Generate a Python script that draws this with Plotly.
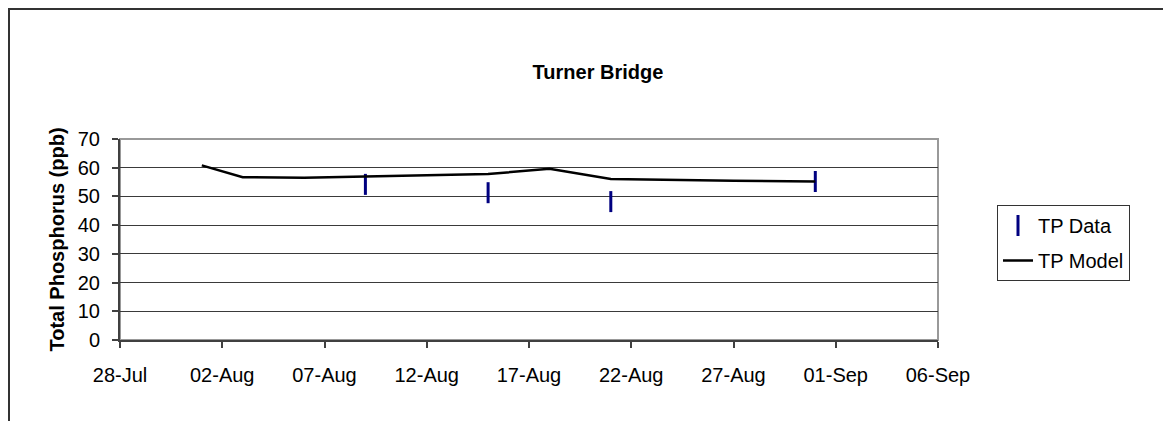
import plotly.graph_objects as go

# ---- data ----
model_dates = ["2004-08-01", "2004-08-03", "2004-08-06", "2004-08-09", "2004-08-15",
               "2004-08-18", "2004-08-21", "2004-08-27", "2004-08-31"]
model_tp = [60.8, 56.7, 56.5, 57.0, 57.8, 59.6, 56.1, 55.5, 55.2]

data_dates = ["2004-08-09", "2004-08-15", "2004-08-21", "2004-08-31"]
data_tp = [54.2, 51.3, 48.2, 55.2]

x_tick_vals = ["2004-07-28", "2004-08-02", "2004-08-07", "2004-08-12", "2004-08-17",
               "2004-08-22", "2004-08-27", "2004-09-01", "2004-09-06"]
y_tick_vals = [0, 10, 20, 30, 40, 50, 60, 70]

FONT = "Liberation Sans, Arial, sans-serif"
OFF = 8  # page body margin
W, H = 1171 - OFF, 421 - OFF
L, R, T, B = 120 - OFF, 233, 139 - OFF, 81
PW, PH = W - L - R, H - T - B

def px_x(px):
    return (px - OFF - L) / PW

def px_y(py):
    return (H - B - (py - OFF)) / PH

fig = go.Figure()
fig.add_trace(go.Scatter(
    x=data_dates, y=data_tp, mode="markers", name="TP Data", legendgroup="a",
    marker=dict(symbol="line-ns", size=15, line=dict(color="#000080", width=3), color="#000080"),
))
fig.add_trace(go.Scatter(
    x=model_dates, y=model_tp, mode="lines", name="TP Model", legendgroup="b",
    line=dict(color="black", width=2.5),
))

fig.update_layout(
    width=W, height=H,
    margin=dict(l=L, r=R, t=T, b=B, autoexpand=False),
    paper_bgcolor="white", plot_bgcolor="white",
    font=dict(family=FONT, size=20, color="black"),
    title=dict(text="<b>Turner Bridge</b>", x=(598 - OFF) / W, xanchor="center",
               y=1 - (72 - OFF) / H, yanchor="middle", font=dict(family=FONT, size=20, color="black")),
    showlegend=True,
    legend=dict(x=px_x(997), y=px_y(205), xanchor="left", yanchor="top",
                bordercolor="#333333", borderwidth=1, bgcolor="white",
                font=dict(family=FONT, size=20), tracegroupgap=6, itemsizing="trace"),
    xaxis=dict(
        type="date", range=["2004-07-28", "2004-09-06"],
        tickmode="array", tickvals=x_tick_vals, tickformat="%d-%b",
        ticks="outside", ticklen=6, tickcolor="#404040", tickwidth=1.5,
        showline=True, linecolor="#404040", linewidth=2,
        showgrid=False, zeroline=False, ticklabelstandoff=10,
        tickfont=dict(family=FONT, size=20),
    ),
    yaxis=dict(
        range=[0, 70], tickmode="array", tickvals=y_tick_vals,
        ticks="outside", ticklen=6, tickcolor="#404040", tickwidth=1.5,
        showline=True, linecolor="#404040", linewidth=2,
        showgrid=True, gridcolor="#3a3a3a", gridwidth=1, zeroline=False,
        ticklabelstandoff=8, tickfont=dict(family=FONT, size=20),
    ),
    annotations=[dict(
        text="<b>Total Phosphorus (ppb)</b>", textangle=-90, xref="paper", yref="paper",
        x=px_x(56), y=0.5, xanchor="center", yanchor="middle", showarrow=False,
        font=dict(family=FONT, size=20, color="black"),
    )],
    shapes=[
        dict(type="rect", xref="paper", yref="paper", x0=0, x1=1, y0=0, y1=1,
             line=dict(color="#999999", width=2), layer="below"),
        dict(type="rect", xref="paper", yref="paper", x0=px_x(9), x1=px_x(1200),
             y0=px_y(450), y1=px_y(9), line=dict(color="#333333", width=2), layer="below"),
    ],
)

fig.write_html("out.html")
